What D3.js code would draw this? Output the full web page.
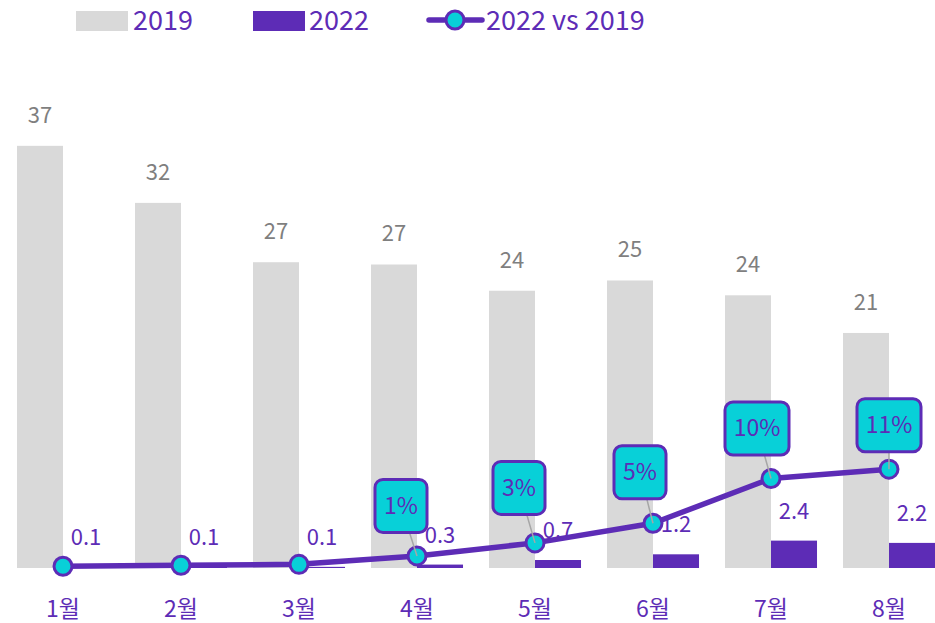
<!DOCTYPE html>
<html>

<head>
	<meta charset="utf-8">
	<title>2019 vs 2022</title>
	<style>
		html,
		body {
			margin: 0;
			background: white;
		}

		svg {
			display: block;
			font-family: "Noto Sans CJK KR", "Noto Sans", sans-serif;
		}
	</style>
	<script src="https://cdn.jsdelivr.net/npm/d3@7"></script>
</head>

<body>
	<svg id="svg" width="935" height="623"></svg>

	<script>
		const months = ['1월', '2월', '3월', '4월', '5월', '6월', '7월', '8월'];
		const values2019 = [37, 32, 26.8, 26.6, 24.3, 25.2, 23.9, 20.6];
		const values2022 = [0.1, 0.1, 0.1, 0.3, 0.7, 1.2, 2.4, 2.2];
		const ratio = [0.3, 0.4, 0.5, 1.4, 2.8, 4.9, 9.7, 10.7];  // % of 2019
		const calloutFrom = 3;  // callouts only from 4월

		const GRAY = '#d9d9d9';
		const PURPLE = '#5d2cb6';
		const CYAN = '#08d0d8';
		const LABEL_GRAY = '#7f7f7f';

		const svg = d3.select('#svg');
		const baseY = 568;

		const x = d3.scaleBand()
			.domain(months)
			.range([4, 948])
			.paddingInner(0.22)
			.paddingOuter(0.11);

		const xs = d3.scaleBand()
			.domain(['2019', '2022'])
			.range([0, x.bandwidth()]);

		const y = d3.scaleLinear()
			.domain([0, 40])
			.range([baseY, baseY - 40 * 11.41]);

		const y2 = d3.scaleLinear()
			.domain([0, 40])
			.range([baseY + 1, baseY + 1 - 40 * 9.33]);

		const cx = m => x(m) + x.bandwidth() / 2;

		// bars
		svg.append('g').selectAll('rect')
			.data(months)
			.join('rect')
			.attr('x', m => x(m) + xs('2019'))
			.attr('y', (m, i) => y(values2019[i]))
			.attr('width', xs.bandwidth())
			.attr('height', (m, i) => baseY - y(values2019[i]))
			.attr('fill', GRAY);

		svg.append('g').selectAll('rect')
			.data(months)
			.join('rect')
			.attr('x', m => x(m) + xs('2022'))
			.attr('y', (m, i) => y(values2022[i]))
			.attr('width', xs.bandwidth())
			.attr('height', (m, i) => baseY - y(values2022[i]))
			.attr('fill', PURPLE);

		// bar labels
		svg.append('g').selectAll('text')
			.data(months)
			.join('text')
			.attr('x', m => x(m) + xs('2019') + xs.bandwidth() / 2)
			.attr('y', (m, i) => y(values2019[i]) - 23)
			.attr('text-anchor', 'middle')
			.attr('font-size', 22)
			.attr('fill', LABEL_GRAY)
			.text((m, i) => Math.round(values2019[i]));

		svg.append('g').selectAll('text')
			.data(months)
			.join('text')
			.attr('x', m => x(m) + xs('2022') + xs.bandwidth() / 2)
			.attr('y', (m, i) => y(values2022[i]) - 22)
			.attr('text-anchor', 'middle')
			.attr('font-size', 22)
			.attr('fill', PURPLE)
			.text((m, i) => values2022[i].toFixed(1));

		// x axis
		const axis = svg.append('g')
			.attr('transform', `translate(0,${baseY})`)
			.call(d3.axisBottom(x).tickSize(0).tickPadding(33));
		axis.select('.domain').remove();
		axis.selectAll('text')
			.attr('font-family', '"Noto Sans CJK KR", sans-serif')
			.attr('font-size', 23)
			.attr('fill', PURPLE);

		// line
		const line = d3.line()
			.x(d => cx(d.m))
			.y(d => y2(d.r));
		const pts = months.map((m, i) => ({ m: m, r: ratio[i], i: i }));

		svg.append('path')
			.datum(pts)
			.attr('d', line)
			.attr('fill', 'none')
			.attr('stroke', PURPLE)
			.attr('stroke-width', 5.5)
			.attr('stroke-linejoin', 'round');

		svg.append('g').selectAll('circle')
			.data(pts)
			.join('circle')
			.attr('cx', d => cx(d.m))
			.attr('cy', d => y2(d.r))
			.attr('r', 9)
			.attr('fill', CYAN)
			.attr('stroke', PURPLE)
			.attr('stroke-width', 3);

		// callouts
		const offsets = [[-16, -50], [-16, -55], [-13, -51], [-14, -50], [0, -44]];
		const calls = pts.slice(calloutFrom);

		const cg = svg.append('g').selectAll('g')
			.data(calls)
			.join('g');

		cg.append('line')
			.attr('x1', d => cx(d.m))
			.attr('y1', d => y2(d.r))
			.attr('x2', (d, k) => cx(d.m) + offsets[k][0])
			.attr('y2', (d, k) => y2(d.r) + offsets[k][1])
			.attr('stroke', '#a6a6a6')
			.attr('stroke-width', 1.5);

		cg.each(function (d, k) {
			const g = d3.select(this);
			const label = Math.round(d.r) + '%';
			const w = label.length > 2 ? 64 : 52, h = 53;
			const bx = cx(d.m) + offsets[k][0], by = y2(d.r) + offsets[k][1];
			g.append('rect')
				.attr('x', bx - w / 2)
				.attr('y', by - h / 2)
				.attr('width', w)
				.attr('height', h)
				.attr('rx', 8)
				.attr('fill', CYAN)
				.attr('stroke', PURPLE)
				.attr('stroke-width', 3);
			g.append('text')
				.attr('x', bx)
				.attr('y', by + 8)
				.attr('text-anchor', 'middle')
				.attr('font-size', 23)
				.attr('fill', PURPLE)
				.text(label);
		});

		// legend
		const legend = svg.append('g').attr('font-size', 27).attr('fill', PURPLE);
		legend.append('rect').attr('x', 76).attr('y', 11).attr('width', 52).attr('height', 20).attr('fill', GRAY);
		legend.append('text').attr('x', 133).attr('y', 30).text('2019');
		legend.append('rect').attr('x', 253).attr('y', 11).attr('width', 52).attr('height', 20).attr('fill', PURPLE);
		legend.append('text').attr('x', 309).attr('y', 30).text('2022');
		legend.append('line').attr('x1', 429).attr('x2', 482).attr('y1', 20).attr('y2', 20)
			.attr('stroke', PURPLE).attr('stroke-width', 5.5).attr('stroke-linecap', 'round');
		legend.append('circle').attr('cx', 455).attr('cy', 20).attr('r', 9)
			.attr('fill', CYAN).attr('stroke', PURPLE).attr('stroke-width', 3);
		legend.append('text').attr('x', 486).attr('y', 30).text('2022 vs 2019');
	</script>
</body>

</html>
